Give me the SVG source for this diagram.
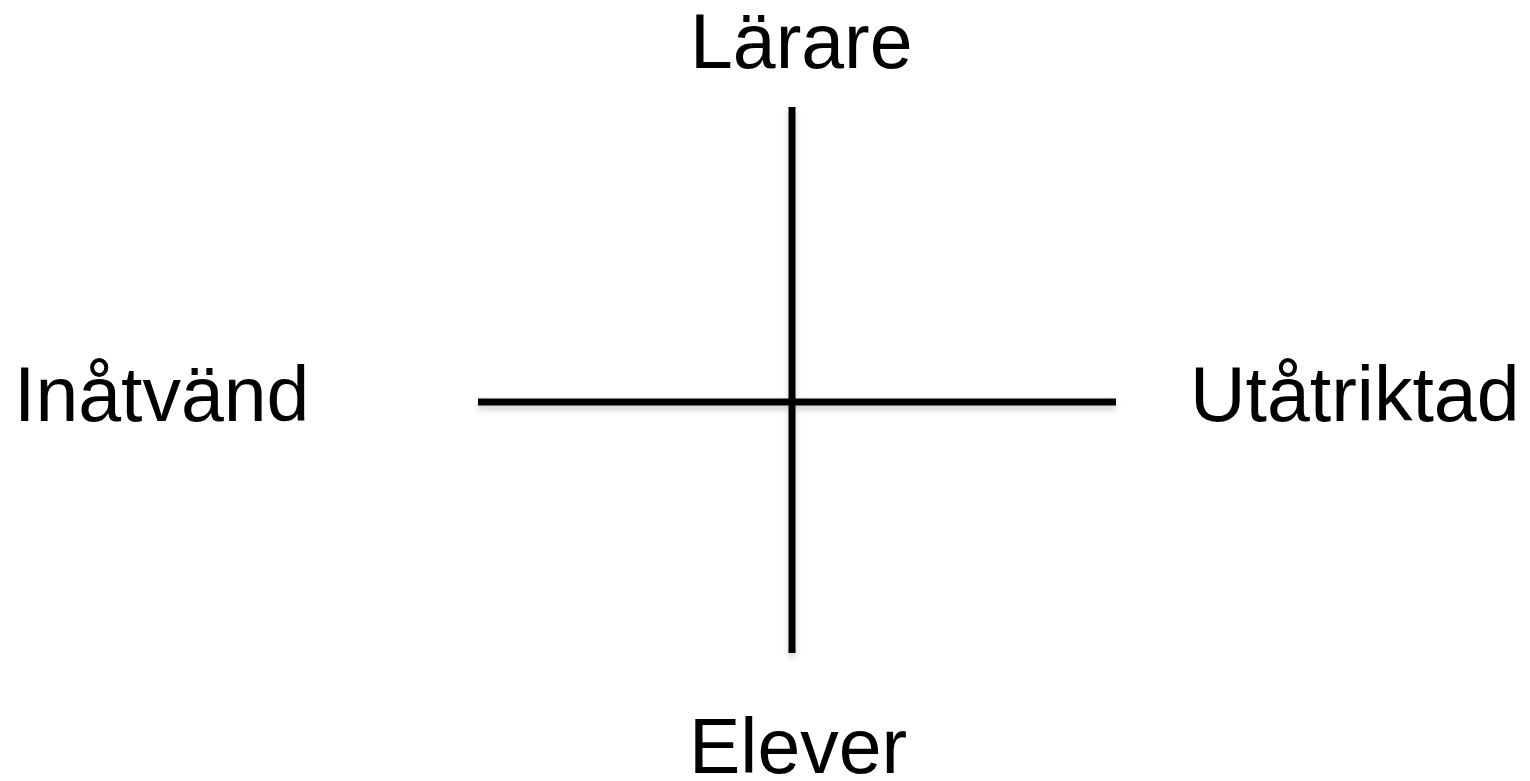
<svg xmlns="http://www.w3.org/2000/svg" width="1530" height="781" viewBox="0 0 1530 781">
  <defs>
    <filter id="sh" x="-10%" y="-10%" width="120%" height="130%">
      <feDropShadow dx="0" dy="4" stdDeviation="3" flood-color="#000" flood-opacity="0.18"/>
    </filter>
  </defs>
  <style>
    .lbl { font-family: "Liberation Sans", Arial, sans-serif; font-size: 77px; fill: #000; }
    .ax { stroke: #000; stroke-width: 7; fill: none; }
  </style>
  <rect width="1530" height="781" fill="#fff"/>
  <g id="connectors" filter="url(#sh)">
    <line class="ax" x1="792" y1="107" x2="792" y2="653"/>
    <line class="ax" x1="478" y1="402" x2="1116" y2="402"/>
  </g>
  <g id="node-larare"><text class="lbl" x="690" y="68">Lärare</text></g>
  <g id="node-inatvand"><text class="lbl" x="14" y="421">Inåtvänd</text></g>
  <g id="node-utatriktad"><text class="lbl" x="1190" y="421">Utåtriktad</text></g>
  <g id="node-elever"><text class="lbl" x="689" y="773">Elever</text></g>
</svg>
